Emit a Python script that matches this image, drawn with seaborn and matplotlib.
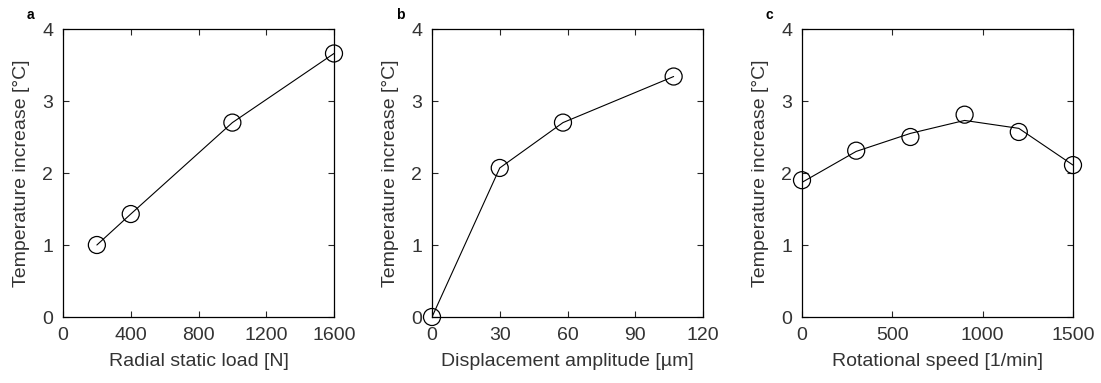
import numpy as np
import pandas as pd
import matplotlib
matplotlib.use('Agg')
import matplotlib.pyplot as plt
import seaborn as sns

# panel a: radial static load
load_n = [200, 400, 1000, 1600]
temp_load = [1.0, 1.43, 2.70, 3.66]

# panel b: displacement amplitude
amp_um = [0, 30, 58, 107]
temp_amp = [0.0, 2.07, 2.70, 3.34]

# panel c: rotational speed (markers and the drawn trend line differ)
speed_rpm = [0, 300, 600, 900, 1200, 1500]
temp_speed = [1.90, 2.31, 2.50, 2.81, 2.57, 2.11]
trend_speed = [1.87, 2.30, 2.55, 2.73, 2.62, 2.11]

xticks_a = [0, 400, 800, 1200, 1600]
xticks_b = [0, 30, 60, 90, 120]
xticks_c = [0, 500, 1000, 1500]
yticks = [0, 1, 2, 3, 4]

sns.set_theme(style='ticks')
plt.rcParams['font.family'] = ['Liberation Sans', 'DejaVu Sans']

fig = plt.figure(figsize=(11.01, 3.83), dpi=100)
W, H = 1101, 383
lefts = [63, 432, 802]
txt_col = '#333333'
panels = [
    ('a', load_n, temp_load, temp_load, xticks_a, (0, 1600), 'Radial static load [N]'),
    ('b', amp_um, temp_amp, temp_amp, xticks_b, (0, 120), 'Displacement amplitude [\u00b5m]'),
    ('c', speed_rpm, temp_speed, trend_speed, xticks_c, (0, 1500), 'Rotational speed [1/min]'),
]

for left, (tag, xs, ys, ln, xt, xl, xlabel) in zip(lefts, panels):
    ax = fig.add_axes([left / W, (H - 317) / H, 271 / W, 288 / H])
    df = pd.DataFrame({'x': xs, 'y': ys, 'line': ln})
    sns.lineplot(data=df, x='x', y='line', ax=ax, color='black', lw=0.8)
    sns.scatterplot(data=df, x='x', y='y', ax=ax, marker='o', s=150,
                    facecolor='none', edgecolor='black', linewidth=0.9, zorder=3)
    ax.set_xlim(*xl)
    ax.set_ylim(0, 4)
    ax.set_xticks(xt)
    ax.set_yticks(yticks)
    ax.tick_params(direction='in', length=4, width=0.8, top=True, right=True,
                   labelsize=14, labelcolor=txt_col, pad=7)
    for sp in ax.spines.values():
        sp.set_linewidth(0.9)
        sp.set_color('black')
    ax.set_xlabel(xlabel, fontsize=14, color=txt_col, labelpad=7)
    ax.set_ylabel('Temperature increase [\u00b0C]', fontsize=14, color=txt_col, labelpad=9)
    # markers sit on the axes edges in the original, so leave them unclipped
    for coll in ax.collections:
        coll.set_clip_on(False)
    fig.text((left - 36) / W, (H - 15) / H, tag, fontsize=10, fontweight='bold',
             ha='left', va='center', color='black')

fig.savefig('out.png', dpi=100)
